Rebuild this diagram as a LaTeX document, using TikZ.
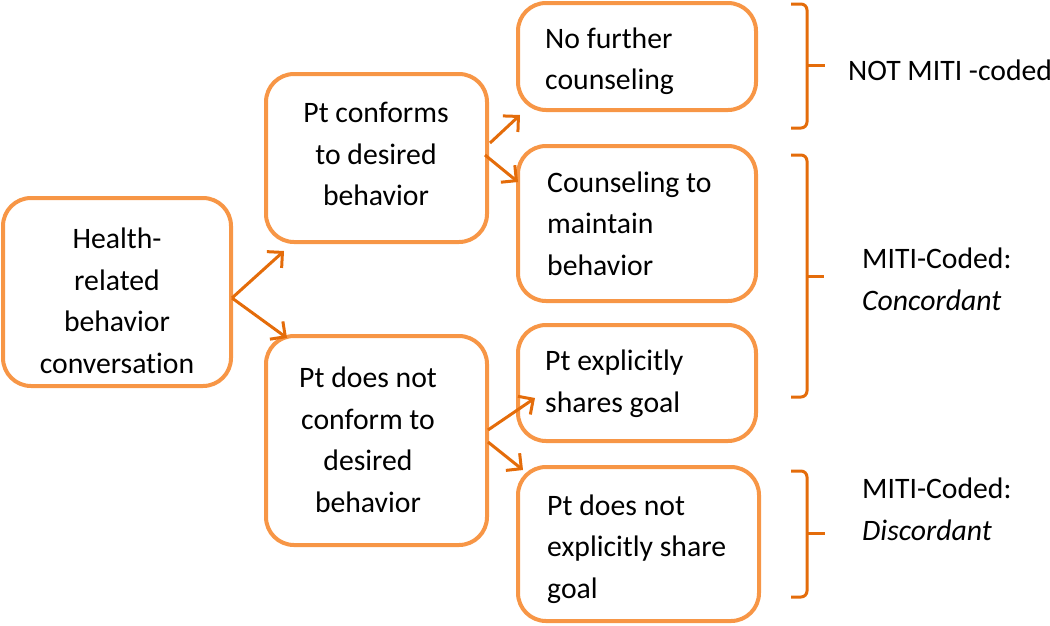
\documentclass[tikz,border=0pt]{standalone}
\usepackage{fontspec}
\setmainfont{Carlito}[RawFeature={-liga}]
\usetikzlibrary{arrows.meta}
\definecolor{boxorange}{HTML}{F79646}
\definecolor{arroworange}{HTML}{E46C0A}
\begin{document}
\begin{tikzpicture}[x=1pt,y=-1pt,
  box/.style={draw=boxorange, line width=4pt, rounded corners=28pt, inner sep=0pt},
  txt/.style={font=\fontsize{29.7}{41.5}\selectfont, inner sep=0pt, align=center},
  ltxt/.style={txt, align=left, anchor=west},
  arr/.style={draw=arroworange, line width=3pt, -{Straight Barb[length=11pt,width=22pt]}},
  brace/.style={draw=arroworange, line width=3pt, rounded corners=6pt},
  tick/.style={draw=arroworange, line width=3pt}]
\useasboundingbox (0,0) rectangle (1050,625);

% boxes
\node[box, minimum width=228pt, minimum height=188pt] (A) at (117,292) {};
\node[box, minimum width=221pt, minimum height=168pt] (B) at (376.5,158) {};
\node[box, minimum width=221pt, minimum height=209pt] (C) at (376.5,440.5) {};
\node[box, minimum width=238pt, minimum height=107pt] (D) at (637,56.5) {};
\node[box, minimum width=238pt, minimum height=155pt] (E) at (637,223.5) {};
\node[box, minimum width=238pt, minimum height=116pt] (F) at (637,383) {};
\node[box, minimum width=241pt, minimum height=154pt] (G) at (638.5,544) {};

% texts
\node[txt] (At) at (117,301) {Health-\\related\\behavior\\conversation};
\node[txt] (Bt) at (376,154) {Pt conforms\\to desired\\behavior};
\node[txt] (Ct) at (368,440) {Pt does not\\conform to\\desired\\behavior};
\node[ltxt] (Dt) at (545,61) {No further\\counseling};
\node[ltxt] (Et) at (547,223.5) {Counseling to\\maintain\\behavior};
\node[ltxt] (Ft) at (545,383.5) {Pt explicitly\\shares goal};
\node[ltxt] (Gt) at (547,549) {Pt does not\\explicitly share\\goal};

% labels
\node[ltxt] (L1) at (848,70) {NOT MITI -coded};
\node[ltxt] (L2) at (862,279.5) {MITI-Coded:\\\textit{Concordant}};
\node[ltxt] (L3) at (862,509.5) {MITI-Coded:\\\textit{Discordant}};

% arrow end points
\coordinate (aS) at (232,298);
\coordinate (tAB) at (284,251);
\coordinate (tAC) at (287,338);
\coordinate (bS1) at (490,143);
\coordinate (tBD) at (520,115);
\coordinate (bS2) at (485,155);
\coordinate (tBE) at (518,182);
\coordinate (cS1) at (488,430);
\coordinate (tCF) at (535,398);
\coordinate (cS2) at (488,442);
\coordinate (tCG) at (523,470);

\draw[arr] (aS) -- (tAB);
\draw[arr] (aS) -- (tAC);
\draw[arr] (bS1) -- (tBD);
\draw[arr] (bS2) -- (tBE);
\draw[arr] (cS1) -- (tCF);
\draw[arr] (cS2) -- (tCG);

% braces
\draw[brace] (791,4) -- (807,4) -- (807,128) -- (791,128);
\draw[tick] (807,65) -- (825,65);
\draw[brace] (791,155) -- (807,155) -- (807,397) -- (791,397);
\draw[tick] (807,276) -- (824,276);
\draw[brace] (791,471) -- (807,471) -- (807,597) -- (791,597);
\draw[tick] (807,533) -- (825,533);
\end{tikzpicture}
\end{document}
